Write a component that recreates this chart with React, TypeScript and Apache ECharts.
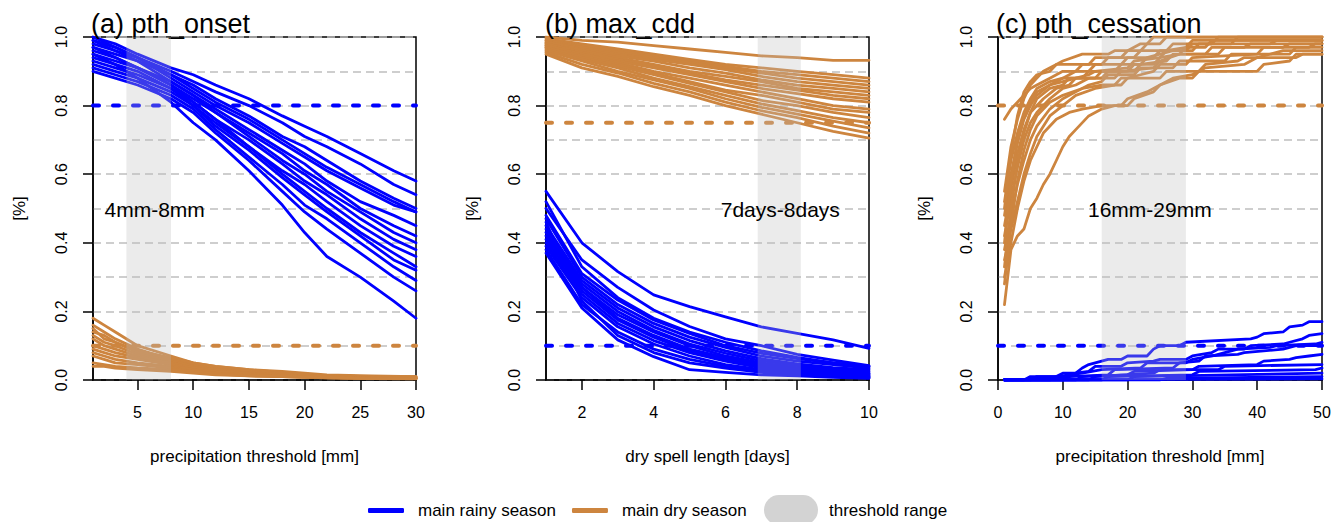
import React, { useEffect, useRef } from "react";
import * as echarts from "echarts";

const BLUE = "#0000FF";
const ORANGE = "#CD853F";
const SHADE_LEGEND = "#D3D3D3";
const FONT = "'Liberation Sans', Arial, Helvetica, sans-serif";

// ---------- texts & axes ----------
const panelTitles = ["(a) pth_onset", "(b) max_cdd", "(c) pth_cessation"];
const xAxisNames = ["precipitation threshold [mm]", "dry spell length [days]", "precipitation threshold [mm]"];
const yAxisName = "[%]";
const xMin = [1, 1, 0];
const xMax = [30, 10, 50];
const xTickValues = [
  [5, 10, 15, 20, 25, 30],
  [2, 4, 6, 8, 10],
  [0, 10, 20, 30, 40, 50],
];
const shadeFrom = [4, 6.9, 16];
const shadeTo = [8, 8.1, 29];
const shadeLabels = ["4mm-8mm", "7days-8days", "16mm-29mm"];
const rainyThreshold = [0.8, 0.1, 0.1];
const dryThreshold = [0.1, 0.75, 0.8];
const rainyName = "main rainy season";
const dryName = "main dry season";
const shadeName = "threshold range";

// ---------- (a) pth_onset ----------
const onsetRainyX = [1, 3, 5, 8, 10, 12, 15, 18, 20, 22, 25, 28, 30];
const onsetRainy = [
  [1.0, 0.98, 0.95, 0.91, 0.89, 0.86, 0.82, 0.77, 0.74, 0.71, 0.66, 0.61, 0.58],
  [0.99, 0.97, 0.94, 0.9, 0.87, 0.84, 0.8, 0.75, 0.71, 0.68, 0.63, 0.57, 0.54],
  [0.98, 0.96, 0.94, 0.89, 0.86, 0.82, 0.77, 0.71, 0.68, 0.64, 0.58, 0.53, 0.5],
  [0.97, 0.95, 0.93, 0.89, 0.85, 0.81, 0.76, 0.7, 0.66, 0.62, 0.57, 0.52, 0.49],
  [1.0, 0.97, 0.94, 0.88, 0.84, 0.8, 0.75, 0.69, 0.65, 0.61, 0.56, 0.51, 0.49],
  [0.96, 0.94, 0.91, 0.87, 0.83, 0.79, 0.73, 0.67, 0.63, 0.58, 0.52, 0.48, 0.45],
  [0.95, 0.93, 0.91, 0.86, 0.82, 0.78, 0.72, 0.66, 0.61, 0.57, 0.5, 0.45, 0.42],
  [0.99, 0.96, 0.93, 0.87, 0.83, 0.78, 0.71, 0.64, 0.6, 0.55, 0.49, 0.43, 0.4],
  [0.94, 0.92, 0.9, 0.85, 0.81, 0.76, 0.7, 0.63, 0.58, 0.54, 0.47, 0.41, 0.38],
  [0.93, 0.91, 0.89, 0.85, 0.8, 0.75, 0.68, 0.61, 0.57, 0.52, 0.45, 0.39, 0.36],
  [0.97, 0.94, 0.91, 0.86, 0.81, 0.76, 0.68, 0.6, 0.55, 0.5, 0.43, 0.37, 0.33],
  [0.92, 0.9, 0.88, 0.84, 0.8, 0.74, 0.67, 0.59, 0.54, 0.49, 0.42, 0.35, 0.32],
  [0.91, 0.89, 0.87, 0.83, 0.79, 0.73, 0.65, 0.57, 0.51, 0.47, 0.4, 0.33, 0.29],
  [0.9, 0.88, 0.86, 0.82, 0.78, 0.72, 0.64, 0.55, 0.49, 0.44, 0.37, 0.3, 0.26],
  [0.95, 0.92, 0.88, 0.81, 0.75, 0.7, 0.61, 0.51, 0.43, 0.36, 0.3, 0.23, 0.18],
];
const onsetDryX = [1, 2, 3, 5, 8, 10, 12, 15, 18, 22, 26, 30];
const onsetDry = [
  [0.18, 0.16, 0.14, 0.1, 0.07, 0.05, 0.04, 0.03, 0.025, 0.015, 0.012, 0.01],
  [0.16, 0.14, 0.12, 0.09, 0.06, 0.045, 0.035, 0.028, 0.02, 0.013, 0.01, 0.008],
  [0.15, 0.12, 0.11, 0.085, 0.065, 0.05, 0.04, 0.03, 0.022, 0.012, 0.01, 0.01],
  [0.14, 0.13, 0.11, 0.08, 0.06, 0.04, 0.03, 0.025, 0.02, 0.012, 0.01, 0.008],
  [0.13, 0.11, 0.1, 0.075, 0.055, 0.04, 0.03, 0.02, 0.018, 0.01, 0.008, 0.006],
  [0.12, 0.1, 0.09, 0.07, 0.05, 0.035, 0.03, 0.02, 0.015, 0.01, 0.008, 0.006],
  [0.1, 0.09, 0.08, 0.065, 0.05, 0.035, 0.025, 0.02, 0.015, 0.01, 0.006, 0.005],
  [0.09, 0.08, 0.07, 0.06, 0.045, 0.03, 0.025, 0.018, 0.012, 0.008, 0.006, 0.005],
  [0.08, 0.07, 0.06, 0.05, 0.04, 0.03, 0.02, 0.015, 0.012, 0.008, 0.005, 0.004],
  [0.07, 0.06, 0.05, 0.045, 0.035, 0.025, 0.02, 0.015, 0.01, 0.007, 0.005, 0.004],
  [0.05, 0.045, 0.04, 0.035, 0.03, 0.025, 0.018, 0.012, 0.01, 0.006, 0.005, 0.004],
  [0.04, 0.04, 0.035, 0.03, 0.025, 0.02, 0.015, 0.012, 0.01, 0.006, 0.004, 0.003],
];

// ---------- (b) max_cdd ----------
const cddX = [1, 2, 3, 4, 5, 6, 7, 8, 9, 10];
const cddDry = [
  [1.0, 0.99, 0.985, 0.975, 0.965, 0.955, 0.945, 0.94, 0.932, 0.932],
  [0.995, 0.98, 0.965, 0.95, 0.935, 0.92, 0.91, 0.9, 0.89, 0.88],
  [0.99, 0.975, 0.96, 0.945, 0.93, 0.915, 0.9, 0.89, 0.88, 0.87],
  [0.99, 0.97, 0.955, 0.94, 0.925, 0.91, 0.895, 0.88, 0.87, 0.86],
  [0.985, 0.97, 0.95, 0.935, 0.92, 0.905, 0.885, 0.87, 0.86, 0.85],
  [0.985, 0.965, 0.945, 0.93, 0.91, 0.895, 0.875, 0.86, 0.85, 0.84],
  [0.98, 0.96, 0.94, 0.92, 0.9, 0.885, 0.87, 0.85, 0.84, 0.83],
  [0.98, 0.955, 0.935, 0.915, 0.895, 0.875, 0.86, 0.845, 0.83, 0.82],
  [0.975, 0.95, 0.93, 0.91, 0.89, 0.87, 0.85, 0.835, 0.82, 0.81],
  [0.975, 0.95, 0.925, 0.9, 0.88, 0.86, 0.84, 0.82, 0.8, 0.79],
  [0.97, 0.945, 0.92, 0.895, 0.87, 0.845, 0.83, 0.81, 0.79, 0.78],
  [0.97, 0.94, 0.915, 0.89, 0.865, 0.84, 0.815, 0.8, 0.78, 0.765],
  [0.965, 0.935, 0.91, 0.88, 0.855, 0.83, 0.805, 0.785, 0.765, 0.75],
  [0.96, 0.93, 0.9, 0.875, 0.85, 0.82, 0.795, 0.775, 0.755, 0.735],
  [0.955, 0.92, 0.895, 0.865, 0.84, 0.81, 0.785, 0.765, 0.74, 0.72],
  [0.95, 0.91, 0.885, 0.855, 0.83, 0.8, 0.775, 0.75, 0.725, 0.705],
];
const cddRainy = [
  [0.55, 0.4, 0.316, 0.248, 0.214, 0.184, 0.155, 0.136, 0.117, 0.092],
  [0.5, 0.35, 0.27, 0.204, 0.156, 0.12, 0.1, 0.075, 0.058, 0.042],
  [0.48, 0.31, 0.233, 0.175, 0.136, 0.1, 0.078, 0.062, 0.05, 0.04],
  [0.47, 0.3, 0.22, 0.165, 0.125, 0.095, 0.07, 0.055, 0.045, 0.035],
  [0.45, 0.29, 0.21, 0.155, 0.115, 0.085, 0.062, 0.047, 0.036, 0.03],
  [0.44, 0.28, 0.2, 0.145, 0.105, 0.078, 0.056, 0.042, 0.032, 0.025],
  [0.43, 0.27, 0.19, 0.14, 0.1, 0.07, 0.05, 0.036, 0.027, 0.02],
  [0.42, 0.27, 0.18, 0.13, 0.09, 0.065, 0.045, 0.032, 0.023, 0.018],
  [0.41, 0.26, 0.175, 0.125, 0.085, 0.06, 0.04, 0.028, 0.02, 0.015],
  [0.4, 0.25, 0.165, 0.115, 0.08, 0.055, 0.035, 0.025, 0.018, 0.012],
  [0.39, 0.24, 0.155, 0.105, 0.07, 0.045, 0.03, 0.02, 0.015, 0.01],
  [0.38, 0.22, 0.14, 0.09, 0.06, 0.04, 0.025, 0.018, 0.012, 0.008],
  [0.37, 0.21, 0.117, 0.068, 0.03, 0.022, 0.015, 0.012, 0.008, 0.005],
  [0.46, 0.23, 0.13, 0.08, 0.05, 0.035, 0.022, 0.015, 0.01, 0.006],
  [0.52, 0.33, 0.24, 0.18, 0.14, 0.11, 0.085, 0.066, 0.05, 0.04],
];

// ---------- (c) pth_cessation : [threshold, share] pairs ----------
const cessationRainy: number[][][] = [
  [[1, 0], [4, 0], [5, 0.01], [9, 0.01], [10, 0.02], [12, 0.02], [13, 0.035], [14, 0.045], [15, 0.05], [17, 0.06], [19, 0.06], [20, 0.07], [23, 0.07], [24, 0.09], [25, 0.1], [28, 0.1], [29, 0.11], [39, 0.12], [40, 0.125], [41, 0.135], [44, 0.14], [45, 0.155], [47, 0.16], [48, 0.17], [50, 0.17]],
  [[1, 0], [5, 0], [6, 0.01], [11, 0.01], [12, 0.02], [14, 0.025], [15, 0.04], [19, 0.04], [20, 0.05], [24, 0.055], [25, 0.06], [29, 0.06], [30, 0.07], [33, 0.08], [34, 0.09], [38, 0.09], [39, 0.1], [44, 0.105], [45, 0.11], [47, 0.12], [48, 0.13], [50, 0.135]],
  [[1, 0], [8, 0], [9, 0.01], [13, 0.02], [16, 0.03], [22, 0.035], [23, 0.05], [29, 0.05], [30, 0.06], [33, 0.07], [35, 0.08], [37, 0.09], [42, 0.095], [43, 0.1], [49, 0.105], [50, 0.11]],
  [[1, 0], [10, 0], [11, 0.01], [17, 0.015], [18, 0.03], [27, 0.035], [28, 0.05], [31, 0.055], [32, 0.07], [37, 0.075], [38, 0.08], [44, 0.09], [46, 0.1], [50, 0.1]],
  [[1, 0], [12, 0], [13, 0.01], [20, 0.015], [21, 0.025], [30, 0.03], [31, 0.04], [40, 0.045], [41, 0.055], [45, 0.06], [46, 0.065], [48, 0.07], [50, 0.075]],
  [[1, 0], [14, 0], [15, 0.01], [24, 0.02], [25, 0.03], [34, 0.03], [35, 0.04], [50, 0.045]],
  [[1, 0], [16, 0], [17, 0.01], [30, 0.015], [31, 0.025], [49, 0.03], [50, 0.035]],
  [[1, 0], [20, 0], [21, 0.01], [50, 0.02]],
  [[1, 0], [25, 0], [26, 0.005], [50, 0.01]],
  [[1, 0], [50, 0.003]],
];
const cessationDry: number[][][] = [
  [[1, 0.76], [2, 0.79], [3, 0.81], [4, 0.83], [5, 0.85], [6, 0.86], [8, 0.88], [10, 0.9], [12, 0.9], [13, 0.92], [16, 0.92], [17, 0.94], [21, 0.94], [22, 0.96], [26, 0.96], [27, 0.98], [33, 0.98], [34, 1.0], [50, 1.0]],
  [[1, 0.55], [2, 0.68], [3, 0.76], [4, 0.82], [5, 0.86], [6, 0.88], [7, 0.9], [9, 0.92], [10, 0.93], [13, 0.95], [17, 0.95], [18, 0.96], [22, 0.96], [23, 0.98], [24, 1.0], [50, 1.0]],
  [[1, 0.52], [2, 0.64], [3, 0.72], [4, 0.78], [5, 0.82], [6, 0.85], [8, 0.87], [10, 0.88], [12, 0.9], [14, 0.9], [15, 0.92], [19, 0.92], [20, 0.94], [24, 0.94], [25, 0.96], [29, 0.96], [30, 0.98], [36, 0.98], [37, 1.0], [50, 1.0]],
  [[1, 0.48], [2, 0.6], [3, 0.69], [4, 0.76], [5, 0.8], [6, 0.83], [8, 0.86], [10, 0.88], [13, 0.88], [14, 0.9], [18, 0.9], [19, 0.92], [22, 0.92], [23, 0.94], [27, 0.96], [30, 0.96], [31, 0.98], [42, 0.98], [43, 0.99], [50, 0.99]],
  [[1, 0.45], [2, 0.56], [3, 0.66], [4, 0.73], [5, 0.78], [7, 0.82], [9, 0.85], [11, 0.86], [12, 0.88], [16, 0.88], [17, 0.9], [21, 0.9], [22, 0.92], [26, 0.93], [27, 0.95], [34, 0.95], [35, 0.97], [44, 0.97], [45, 0.98], [50, 0.98]],
  [[1, 0.42], [2, 0.53], [3, 0.62], [4, 0.7], [5, 0.75], [6, 0.78], [8, 0.82], [10, 0.85], [12, 0.86], [14, 0.88], [18, 0.88], [19, 0.9], [24, 0.91], [25, 0.93], [28, 0.95], [32, 0.95], [33, 0.97], [38, 0.97], [39, 0.98], [50, 0.98]],
  [[1, 0.38], [2, 0.48], [3, 0.57], [4, 0.64], [5, 0.7], [6, 0.74], [8, 0.79], [10, 0.82], [12, 0.84], [14, 0.86], [16, 0.87], [17, 0.89], [21, 0.89], [22, 0.91], [27, 0.91], [28, 0.93], [35, 0.93], [36, 0.95], [45, 0.95], [46, 0.97], [50, 0.97]],
  [[1, 0.35], [2, 0.44], [3, 0.52], [4, 0.6], [5, 0.66], [6, 0.71], [8, 0.77], [10, 0.8], [12, 0.83], [15, 0.85], [18, 0.86], [19, 0.88], [25, 0.88], [26, 0.9], [31, 0.9], [32, 0.92], [37, 0.93], [38, 0.94], [46, 0.94], [47, 0.95], [50, 0.95]],
  [[1, 0.22], [2, 0.38], [3, 0.42], [4, 0.44], [5, 0.5], [6, 0.53], [7, 0.57], [8, 0.6], [9, 0.64], [10, 0.68], [11, 0.71], [12, 0.73], [14, 0.77], [16, 0.79], [18, 0.8], [20, 0.8], [21, 0.82], [24, 0.84], [25, 0.86], [28, 0.88], [30, 0.88], [31, 0.9], [40, 0.9], [41, 0.92], [45, 0.93], [46, 0.95], [50, 0.95]],
  [[1, 0.3], [2, 0.4], [3, 0.5], [4, 0.58], [5, 0.64], [6, 0.68], [7, 0.72], [9, 0.76], [11, 0.78], [13, 0.79], [16, 0.8], [19, 0.8], [20, 0.82], [23, 0.84], [25, 0.86], [27, 0.88], [30, 0.89], [32, 0.91], [38, 0.92], [40, 0.94], [44, 0.96], [50, 0.96]],
  [[1, 0.5], [2, 0.66], [3, 0.77], [4, 0.84], [5, 0.87], [6, 0.89], [8, 0.9], [9, 0.92], [14, 0.92], [15, 0.94], [19, 0.94], [20, 0.96], [22, 0.98], [25, 0.98], [26, 1.0], [50, 1.0]],
  [[1, 0.4], [2, 0.58], [3, 0.7], [4, 0.77], [5, 0.81], [6, 0.84], [8, 0.86], [10, 0.87], [12, 0.88], [14, 0.89], [15, 0.9], [20, 0.91], [21, 0.93], [25, 0.94], [26, 0.96], [29, 0.97], [30, 0.99], [50, 0.99]],
  [[1, 0.33], [2, 0.5], [3, 0.63], [4, 0.72], [5, 0.78], [6, 0.82], [8, 0.85], [10, 0.86], [11, 0.88], [15, 0.88], [16, 0.9], [20, 0.9], [21, 0.92], [24, 0.92], [25, 0.94], [28, 0.95], [29, 0.97], [32, 0.97], [33, 0.99], [50, 0.99]],
  [[1, 0.28], [2, 0.45], [3, 0.58], [4, 0.67], [5, 0.73], [6, 0.77], [8, 0.81], [10, 0.83], [13, 0.85], [16, 0.86], [19, 0.86], [20, 0.88], [22, 0.89], [24, 0.9], [25, 0.92], [29, 0.92], [30, 0.94], [40, 0.95], [41, 0.97], [48, 0.97], [49, 0.98], [50, 0.98]],
];

// ---------- layout (pixels) ----------
const gridLeft = [93, 546, 998];
const gridWidth = [323, 323, 324];
const gridTop = 37;
const gridHeight = 343;
const titleLeft = [91, 545, 996];
const shadeLabelOffset = [[6, 1], [1, 1], [6, 1]];

const PILL =
  "path://M15,0 H39 A15,15 0 0 1 54,15 A15,15 0 0 1 39,30 H15 A15,15 0 0 1 0,15 A15,15 0 0 1 15,0 Z";

function zipXY(xs: number[], ys: number[]) {
  return ys.map((y, k) => [xs[k], y]);
}

function buildOption() {
  const curvesByPanel = [
    {
      rainy: onsetRainy.map((ys) => zipXY(onsetRainyX, ys)),
      dry: onsetDry.map((ys) => zipXY(onsetDryX, ys)),
    },
    {
      rainy: cddRainy.map((ys) => zipXY(cddX, ys)),
      dry: cddDry.map((ys) => zipXY(cddX, ys)),
    },
    { rainy: cessationRainy, dry: cessationDry },
  ];

  const axisLineStyle = { color: "#000", width: 1.5 };
  const gridLineStyle = { color: "#BEBEBE", width: 1.5, type: [8, 5] as any };
  const textBase = { color: "#000", fontFamily: FONT };

  const series: any[] = [];
  const curve = (i: number, name: string, color: string, data: number[][]) => ({
    type: "line",
    name,
    xAxisIndex: i,
    yAxisIndex: i,
    data,
    symbol: "none",
    showSymbol: false,
    silent: true,
    z: 2,
    itemStyle: { color },
    lineStyle: { color, width: 2.8, cap: "round", join: "round" },
    emphasis: { disabled: true },
  });

  for (let i = 0; i < 3; i++) {
    curvesByPanel[i].rainy.forEach((d) => series.push(curve(i, rainyName, BLUE, d)));
    curvesByPanel[i].dry.forEach((d) => series.push(curve(i, dryName, ORANGE, d)));
    // threshold lines
    [
      { v: rainyThreshold[i], c: BLUE, n: "rainy threshold" },
      { v: dryThreshold[i], c: ORANGE, n: "dry threshold" },
    ].forEach((t) =>
      series.push({
        type: "line",
        name: t.n,
        xAxisIndex: i,
        yAxisIndex: i,
        data: [
          [xMin[i], t.v],
          [xMax[i], t.v],
        ],
        symbol: "none",
        silent: true,
        z: 3,
        lineStyle: { color: t.c, width: 4, type: [6, 14], cap: "round" },
        emphasis: { disabled: true },
      })
    );
    // threshold range shading
    series.push({
      type: "line",
      name: shadeName,
      xAxisIndex: i,
      yAxisIndex: i,
      data: [],
      symbol: "none",
      silent: true,
      itemStyle: { color: SHADE_LEGEND },
      lineStyle: { color: SHADE_LEGEND },
      markArea: {
        silent: true,
        z: 10,
        itemStyle: { color: "rgba(190,190,190,0.3)" },
        label: {
          show: true,
          position: "inside",
          offset: shadeLabelOffset[i],
          fontSize: 21,
          ...textBase,
        },
        data: [[{ xAxis: shadeFrom[i], name: shadeLabels[i] }, { xAxis: shadeTo[i] }]],
      },
    });
  }

  return {
    animation: false,
    textStyle: { fontFamily: FONT },
    title: panelTitles.map((t, i) => ({
      text: t,
      left: titleLeft[i],
      top: 10,
      padding: 0,
      textStyle: { fontSize: 27, fontWeight: "normal", ...textBase },
    })),
    legend: [
      {
        data: [rainyName, dryName],
        left: 368,
        top: 502,
        padding: 0,
        itemWidth: 36,
        itemHeight: 5,
        itemGap: 16,
        icon: "roundRect",
        selectedMode: false,
        textStyle: { fontSize: 17, ...textBase, padding: [0, 0, 0, 9] },
      },
      {
        data: [{ name: shadeName, icon: PILL, itemStyle: { color: SHADE_LEGEND } }],
        left: 764,
        top: 495,
        padding: 0,
        itemWidth: 54,
        itemHeight: 30,
        selectedMode: false,
        textStyle: { fontSize: 17, ...textBase, padding: [0, 0, 0, 6] },
      },
    ],
    grid: gridLeft.map((l, i) => ({
      left: l,
      top: gridTop,
      width: gridWidth[i],
      height: gridHeight,
      show: true,
      borderColor: "#000",
      borderWidth: 1.5,
      backgroundColor: "transparent",
    })),
    xAxis: [0, 1, 2].map((i) => ({
      type: "value",
      gridIndex: i,
      min: xMin[i],
      max: xMax[i],
      axisLine: { show: true, onZero: false, lineStyle: axisLineStyle },
      axisTick: { show: true, length: 10, lineStyle: axisLineStyle, customValues: xTickValues[i] },
      axisLabel: { customValues: xTickValues[i], margin: 24, fontSize: 16, ...textBase },
      splitLine: { show: false },
      name: xAxisNames[i],
      nameLocation: "middle",
      nameGap: 68,
      nameTextStyle: { fontSize: 17, ...textBase },
    })),
    yAxis: [0, 1, 2].map((i) => ({
      type: "value",
      gridIndex: i,
      min: 0,
      max: 1,
      interval: 0.2,
      axisLine: { show: true, onZero: false, lineStyle: axisLineStyle },
      axisTick: { show: true, length: 10, lineStyle: axisLineStyle },
      axisLabel: {
        rotate: 90,
        margin: 24,
        fontSize: 16,
        ...textBase,
        formatter: (v: number) => v.toFixed(1),
      },
      splitLine: { show: true, lineStyle: gridLineStyle },
      minorTick: { show: false, splitNumber: 2 },
      minorSplitLine: { show: true, lineStyle: gridLineStyle },
      name: yAxisName,
      nameLocation: "middle",
      nameGap: 65,
      nameTextStyle: { fontSize: 17, ...textBase },
    })),
    series,
  };
}

export default function App() {
  const ref = useRef<HTMLDivElement>(null);
  useEffect(() => {
    if (!ref.current) return;
    const chart = echarts.init(ref.current, undefined, { renderer: "svg" });
    chart.setOption(buildOption() as any);
    return () => chart.dispose();
  }, []);
  return (
    <div
      ref={ref}
      style={{ position: "absolute", left: 0, top: 0, width: 1343, height: 522, background: "#fff" }}
    />
  );
}
